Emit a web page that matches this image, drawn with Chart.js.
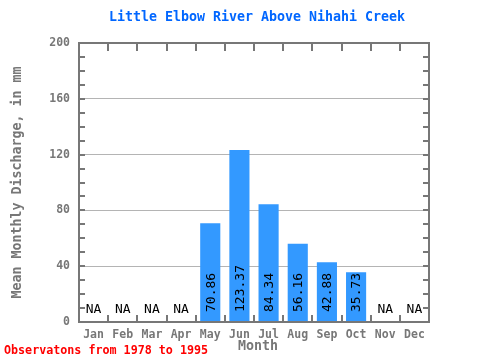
<!DOCTYPE html>
<html><head><meta charset="utf-8">
<script src="https://cdn.jsdelivr.net/npm/chart.js@4"></script>
<style>html,body{margin:0;padding:0;background:#fff}canvas{display:block}</style>
</head><body>
<canvas id="c" width="480" height="360"></canvas>
<script>
const months = ["Jan","Feb","Mar","Apr","May","Jun","Jul","Aug","Sep","Oct","Nov","Dec"];
const discharge = [null,null,null,null,70.86,123.37,84.34,56.16,42.88,35.73,null,null];
const valueLabels = ["NA","NA","NA","NA","70.86","123.37","84.34","56.16","42.88","35.73","NA","NA"];
const yTicks = [0,40,80,120,160,200];
const titleText = "Little Elbow River Above Nihahi Creek";
const yTitle = "Mean Monthly Discharge, in mm";
const xTitle = "Month";
const footText = "Observatons from 1978 to 1995";

const MONO = '"DejaVu Sans Mono", "Liberation Mono", monospace';
const GRAY = '#777777';

const decor = {
  id: 'decor',
  afterDatasetsDraw(chart) {
    const ctx = chart.ctx, a = chart.chartArea;
    const xs = chart.scales.x, ys = chart.scales.y;
    ctx.save();
    // frame
    ctx.strokeStyle = GRAY; ctx.lineWidth = 2;
    ctx.strokeRect(a.left, a.top, a.right - a.left, a.bottom - a.top);
    // minor ticks y
    ctx.beginPath();
    for (let v = 10; v < 200; v += 10) {
      const y = Math.round(ys.getPixelForValue(v));
      ctx.moveTo(a.left, y); ctx.lineTo(a.left + 6, y);
      ctx.moveTo(a.right, y); ctx.lineTo(a.right - 6, y);
    }
    ctx.stroke();
    ctx.beginPath();
    for (let i = 1; i < months.length; i++) {
      const x = Math.round((xs.getPixelForValue(i - 1) + xs.getPixelForValue(i)) / 2);
      ctx.moveTo(x, a.bottom); ctx.lineTo(x, a.bottom - 7);
      ctx.moveTo(x, a.top); ctx.lineTo(x, a.top + 8);
    }
    ctx.stroke();
    // value labels
    ctx.fillStyle = '#000';
    ctx.font = '13px ' + MONO;
    for (let i = 0; i < months.length; i++) {
      const x = xs.getPixelForValue(i);
      if (discharge[i] == null) {
        ctx.textAlign = 'center'; ctx.textBaseline = 'alphabetic';
        ctx.fillText(valueLabels[i], x, a.bottom - 9);
      } else {
        ctx.save();
        ctx.translate(x, a.bottom - 10);
        ctx.rotate(-Math.PI / 2);
        ctx.textAlign = 'left'; ctx.textBaseline = 'middle';
        ctx.fillText(valueLabels[i], 0, 1);
        ctx.restore();
      }
    }
    // title
    ctx.fillStyle = '#0066ff';
    ctx.font = 'bold 13.3px ' + MONO;
    ctx.textAlign = 'center'; ctx.textBaseline = 'middle';
    ctx.fillText(titleText, (a.left + a.right) / 2 + 3, 18);
    // x title
    ctx.fillStyle = GRAY;
    ctx.font = 'bold 13.3px ' + MONO;
    ctx.fillText(xTitle, (a.left + a.right) / 2 + 4, 347);
    // footer
    ctx.fillStyle = '#ff0000';
    ctx.font = 'bold 11.7px ' + MONO;
    ctx.textAlign = 'left'; ctx.textBaseline = 'middle';
    ctx.fillText(footText, 4, 351);
    ctx.restore();
  }
};

new Chart(document.getElementById('c'), {
  type: 'bar',
  data: { labels: months, datasets: [{ data: discharge, backgroundColor: '#3399ff', borderWidth: 0, barPercentage: 0.69, categoryPercentage: 1 }] },
  options: {
    responsive: false, animation: false,
    layout: { padding: { top: 43, right: 51, left: 0, bottom: 0 } },
    plugins: { legend: { display: false }, tooltip: { enabled: false } },
    scales: {
      x: {
        grid: { display: false, drawTicks: false }, border: { display: false },
        ticks: { color: GRAY, font: { family: MONO, size: 11.5, weight: 'bold' }, padding: 6, maxRotation: 0 },
        title: { display: false },
        afterFit(s) { s.height = 38; }
      },
      y: {
        min: 0, max: 200,
        afterBuildTicks(s) { s.ticks = yTicks.map(v => ({ value: v })); },
        grid: { color: ctx => (ctx.tick && (ctx.tick.value === 0 || ctx.tick.value === 200)) ? 'rgba(0,0,0,0)' : '#b4b4b4', drawTicks: false, lineWidth: 1 },
        border: { display: false },
        ticks: { color: GRAY, font: { family: MONO, size: 11.5, weight: 'bold' }, padding: 9 },
        title: { display: true, text: yTitle, color: GRAY, font: { family: MONO, size: 13.3, weight: 'bold' }, padding: { top: 10, bottom: 0 } },
        afterFit(s) { s.width = 79; }
      }
    }
  },
  plugins: [decor]
});
</script>
</body></html>
